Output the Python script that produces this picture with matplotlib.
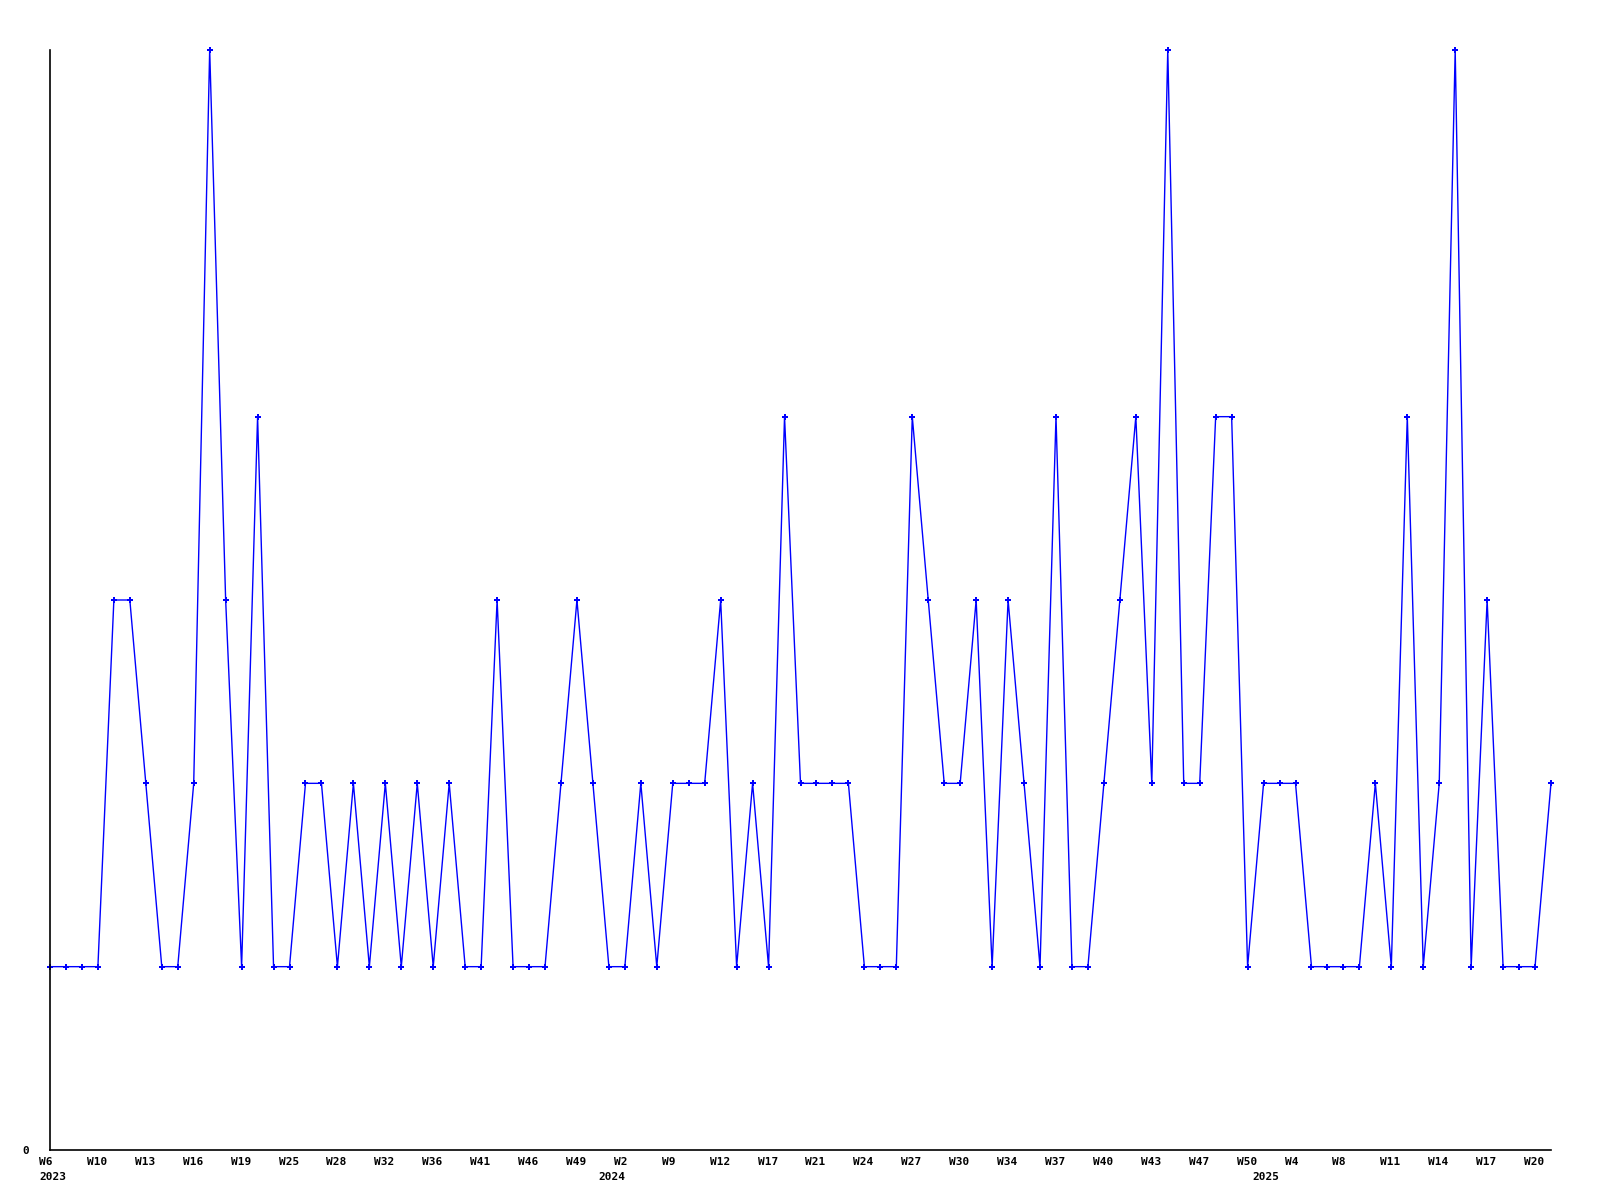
"""Weekly counts, 2023-2025 — recreated as a plain line chart."""

import matplotlib
matplotlib.use("Agg")
import matplotlib.pyplot as plt
import matplotlib.transforms as mtransforms

# one value per period
values = [1, 1, 1, 1, 3, 3, 2, 1, 1, 2,
          6, 3, 1, 4, 1, 1, 2, 2, 1, 2,
          1, 2, 1, 2, 1, 2, 1, 1, 3, 1,
          1, 1, 2, 3, 2, 1, 1, 2, 1, 2,
          2, 2, 3, 1, 2, 1, 4, 2, 2, 2,
          2, 1, 1, 1, 4, 3, 2, 2, 3, 1,
          3, 2, 1, 4, 1, 1, 2, 3, 4, 2,
          6, 2, 2, 4, 4, 1, 2, 2, 2, 1,
          1, 1, 1, 2, 1, 4, 1, 2, 6, 1,
          3, 1, 1, 1, 2]

# labels shown on every third period
week_labels = ["W6", "W10", "W13", "W16", "W19", "W25", "W28", "W32",
               "W36", "W41", "W46", "W49", "W2", "W9", "W12", "W17",
               "W21", "W24", "W27", "W30", "W34", "W37", "W40", "W43",
               "W47", "W50", "W4", "W8", "W11", "W14", "W17", "W20"]
label_step = 3

# year markers: (period index, year)
year_pos = [0, 35, 76]
year_text = ["2023", "2024", "2025"]

fig = plt.figure(figsize=(16, 12), dpi=100)
ax = fig.add_axes([50 / 1600, 50 / 1200, 1501 / 1600, 1100 / 1200])

xs = list(range(len(values)))
ax.plot(xs, values, color="#0000ff", linewidth=1.0,
        marker="P", markersize=4, markeredgewidth=0, clip_on=False)

ax.set_xlim(0, len(values) - 1)
ax.set_ylim(0, max(values))

for side in ("top", "right"):
    ax.spines[side].set_visible(False)
for side in ("left", "bottom"):
    ax.spines[side].set_linewidth(1.2)
    ax.spines[side].set_color("black")

font = dict(family="DejaVu Sans Mono", weight="bold", size=8)

# no tick marks; labels are drawn as text so they can sit left-aligned
ax.set_xticks([])
ax.set_yticks([0])
ax.set_yticklabels(["0"], **font)
ax.tick_params(axis="y", length=0, pad=15)

# week labels and year labels under the axis, nudged left of the point
shift = mtransforms.ScaledTranslation(-11 / 100, 0, fig.dpi_scale_trans)
trans = mtransforms.blended_transform_factory(ax.transData, ax.transAxes) + shift
week_x = xs[::label_step][:len(week_labels)]
for i, wk in zip(week_x, week_labels):
    ax.text(i, -12 / 1100, wk, transform=trans, ha="left", va="center",
            **font)
for i, yr in zip(year_pos, year_text):
    ax.text(i, -27 / 1100, yr, transform=trans, ha="left", va="center",
            **font)

fig.savefig("out.png", dpi=100)
